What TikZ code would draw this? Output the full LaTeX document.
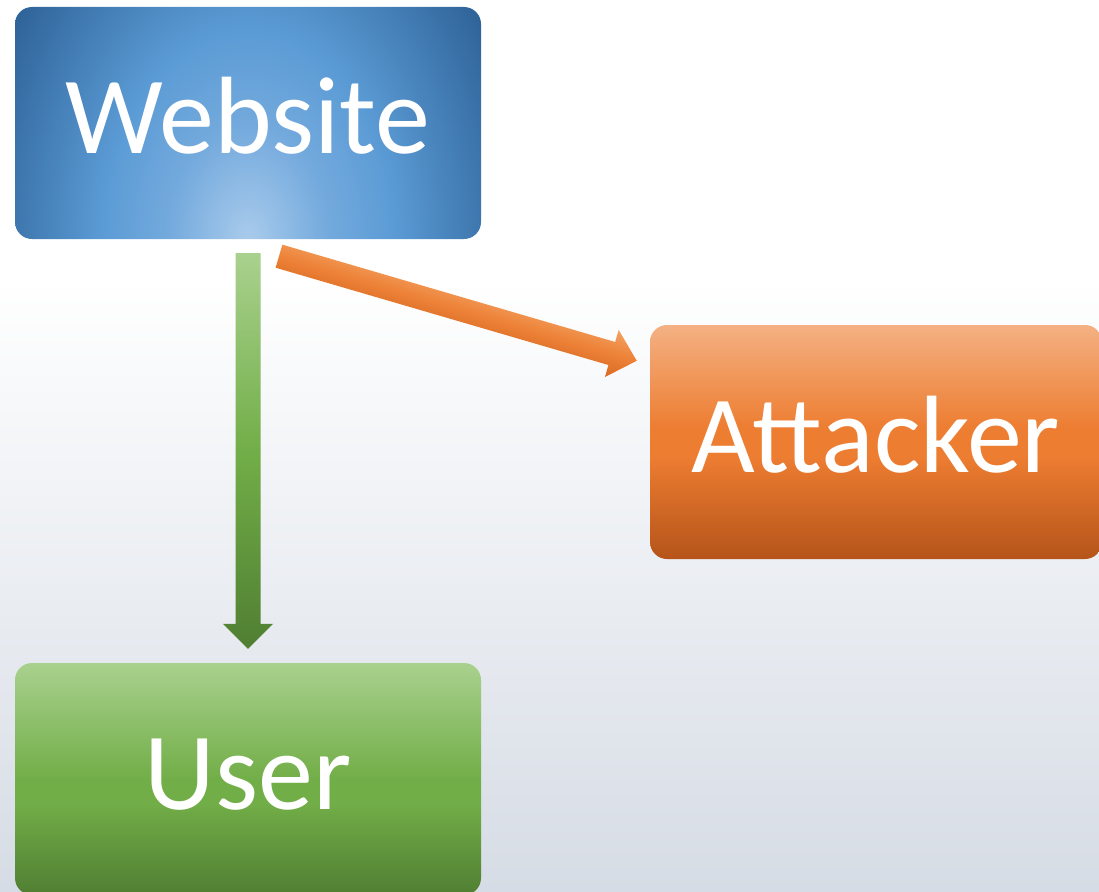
\documentclass[tikz,border=0pt]{standalone}
\usepackage{fontspec}
\setmainfont{Carlito}
\usetikzlibrary{calc}
\definecolor{bgbot}{HTML}{D6DCE5}
\definecolor{webC}{HTML}{A9CBEC}
\definecolor{webB}{HTML}{74AADD}
\definecolor{webM}{HTML}{5B9BD5}
\definecolor{webD}{HTML}{2E6398}
\definecolor{orT}{HTML}{F4B183}
\definecolor{orM}{HTML}{ED7D31}
\definecolor{orB}{HTML}{B5541A}
\definecolor{arT}{HTML}{F3A262}
\definecolor{arM}{HTML}{ED8238}
\definecolor{arB}{HTML}{DA6A22}
\definecolor{grT}{HTML}{A9D18E}
\definecolor{grM}{HTML}{72AE48}
\definecolor{grB}{HTML}{507E32}
\pgfdeclareradialshading{webglow}{\pgfpoint{0bp}{0bp}}{%
  color(0bp)=(webC); color(7bp)=(webB); color(13bp)=(webM); color(25bp)=(webD); color(50bp)=(webD)}
\pgfdeclareverticalshading{attshade}{100bp}{%
  color(0bp)=(orB); color(25bp)=(orB); color(47bp)=(orM); color(53bp)=(orM); color(75bp)=(orT); color(100bp)=(orT)}
\pgfdeclareverticalshading{usershade}{100bp}{%
  color(0bp)=(grB); color(25bp)=(grB); color(45bp)=(grM); color(50bp)=(grM); color(75bp)=(grT); color(100bp)=(grT)}
\tikzset{
  box/.style={rounded corners=17pt, minimum width=466pt, minimum height=232pt,
    inner sep=0pt, text=white, font=\fontsize{110}{120}\selectfont,
    text height=80pt, text depth=20pt},
}
\begin{document}
\begin{tikzpicture}[x=1pt,y=-1pt]
\useasboundingbox (0,0) rectangle (1099,891);
% background
\fill[white] (0,0) rectangle (1099,891);
\shade[top color=white, bottom color=bgbot] (0,278) rectangle (1099,891);
% nodes
\node[box, path picture={
   \shade[shading=webglow] ($(path picture bounding box.south)+(-280,-400)$)
      rectangle ($(path picture bounding box.south)+(280,400)$);}]
   (web) at (248,123) {Website};
\node[box, minimum width=452pt, minimum height=234pt, shading=attshade]
   (att) at (876,442) {Attacker};
\node[box, shading=usershade] (user) at (248,779) {User};
% green arrow (Website -> User)
\coordinate (g1) at ($(web.south)+(0,14)$);
\coordinate (g2) at ($(user.north)+(0,-14)$);
\shade[top color=grT, bottom color=grB, middle color=grM]
  let \p1=(g1), \p2=(g2) in
  (\x1-12.5pt,\y1) -- (\x1+12.5pt,\y1) -- (\x1+12.5pt,\y2+25pt) -- (\x1+25pt,\y2+25pt)
  -- (\x1,\y2) -- (\x1-25pt,\y2+25pt) -- (\x1-12.5pt,\y2+25pt) -- cycle;
% orange arrow (Website -> Attacker)
\coordinate (o1) at ($(web.south)+(31,17)$);
\coordinate (o2) at ($(att.north west)+(-13,36)$);
\pgfpointdiff{\pgfpointanchor{o1}{center}}{\pgfpointanchor{o2}{center}}
\pgfgetlastxy{\odx}{\ody}
\pgfmathsetmacro{\oang}{atan2(\ody,\odx)}
\pgfmathsetmacro{\olen}{veclen(\odx,\ody)}
\pgfmathsetmacro{\obase}{\olen-26}
\begin{scope}[transform canvas={shift={(o1)}, rotate=\oang}]
\shade[top color=arT, bottom color=arB, middle color=arM]
  (0pt,12pt) -- (\obase pt,12pt) -- (\obase pt,24.5pt) -- (\olen pt,0pt)
  -- (\obase pt,-24.5pt) -- (\obase pt,-12pt) -- (0pt,-12pt) -- cycle;
\end{scope}
\end{tikzpicture}
\end{document}
